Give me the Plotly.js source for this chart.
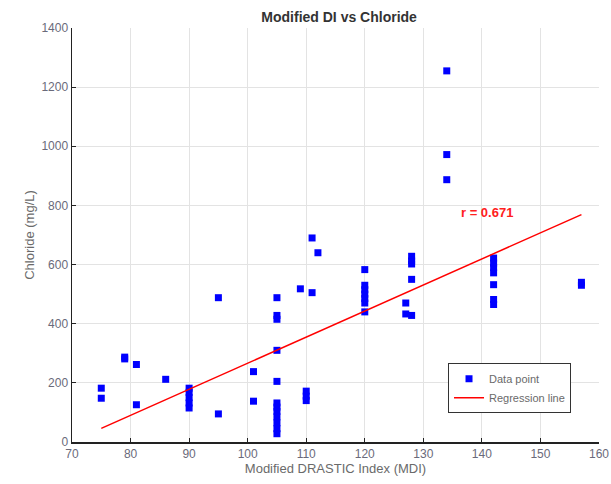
<!DOCTYPE html>
<html>
<head>
<meta charset="utf-8">
<script src="https://cdn.plot.ly/plotly-3.0.1.min.js"></script>
<style>html,body{margin:0;padding:0;background:#fff;}#chart{width:611px;height:484px;}</style>
</head>
<body>
<div id="chart"></div>
<script>
const mdi = [75,75,79,79,81,81,86,90,90,90,90,90,95,95,101,101,
  105,105,105,105,105,105,105,105,105,105,105,105,
  110,110,110,109,111,111,112,
  120,120,120,120,120,120,120,127,127,128,128,128,128,128,
  134,134,134,142,142,142,142,142,142,142,157,157];
const chloride = [182,148,287,281,262,126,212,182,168,150,132,115,488,95,238,138,
  488,428,415,310,205,132,118,104,85,65,45,28,
  172,155,140,518,690,505,640,
  583,530,515,500,485,470,440,470,433,628,612,602,550,428,
  1255,972,887,622,605,590,572,532,482,465,540,530];
const regX = [75, 157];
const regY = [46, 769];
const rText = 'r = 0.671';
const xTicks = [70,80,90,100,110,120,130,140,150,160];
const yTicks = [0,200,400,600,800,1000,1200,1400];

const font = 'Liberation Sans, Arial, sans-serif';
const traces = [
  {x: mdi, y: chloride, type: 'scatter', mode: 'markers', name: 'Data point',
   marker: {symbol: 'square', size: 7, color: '#0000ff'}},
  {x: regX, y: regY, type: 'scatter', mode: 'lines', name: 'Regression line',
   line: {color: '#ff0000', width: 1.5}}
];
const axisCommon = {
  showgrid: true, gridcolor: '#e3e3e3', gridwidth: 1,
  showline: true, linecolor: '#222', linewidth: 1.5,
  ticks: 'inside', ticklen: 4, tickcolor: '#222',
  zeroline: false, tickfont: {family: font, size: 12, color: '#6a6a7a'}
};
const layout = {
  width: 611, height: 484,
  margin: {l: 72, r: 12, t: 28, b: 42},
  paper_bgcolor: '#fff', plot_bgcolor: '#fff',
  title: {text: '<b>Modified DI vs Chloride</b>', font: {family: font, size: 14, color: '#333'},
          x: 0.555, xanchor: 'center', y: 0.965, yanchor: 'middle'},
  xaxis: Object.assign({}, axisCommon, {range: [70, 160], tickvals: xTicks,
    title: {text: 'Modified DRASTIC Index (MDI)', font: {family: font, size: 13, color: '#6a6a6a'}, standoff: 2}}),
  yaxis: Object.assign({}, axisCommon, {range: [0, 1400], tickvals: yTicks,
    title: {text: 'Chloride (mg/L)', font: {family: font, size: 13, color: '#6a6a6a'}, standoff: 4}}),
  showlegend: true,
  legend: {x: 0.7135, y: 0.19, xanchor: 'left', yanchor: 'top',
    bgcolor: '#fff', bordercolor: '#333', borderwidth: 1,
    font: {family: font, size: 11, color: '#6a6a6a'}, tracegroupgap: 0, itemwidth: 30},
  annotations: [{x: 140.9, y: 775, xref: 'x', yref: 'y', text: '<b>' + rText + '</b>', showarrow: false,
    font: {family: font, size: 13, color: '#ff2020'}}]
};
Plotly.newPlot('chart', traces, layout, {displayModeBar: false, staticPlot: true});
</script>
</body>
</html>
